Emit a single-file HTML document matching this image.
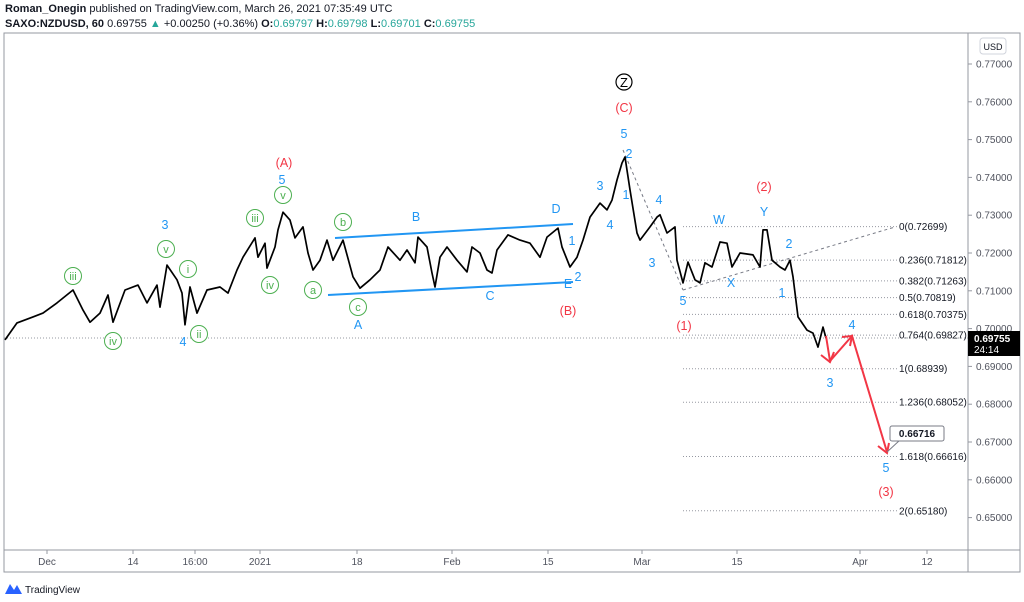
<!DOCTYPE html>
<html><head><meta charset="utf-8"><style>
html,body{margin:0;padding:0;background:#fff;width:1024px;height:602px;overflow:hidden;font-family:"Liberation Sans",sans-serif}
svg text{font-family:"Liberation Sans",sans-serif}
</style></head><body>
<svg id="chart" width="1024" height="602" viewBox="0 0 1024 602">
<text x="5" y="12" font-size="11" fill="#131722"><tspan font-weight="bold">Roman_Onegin</tspan> published on TradingView.com, March 26, 2021 07:35:49 UTC</text>
<text x="5" y="27" font-size="11" fill="#131722"><tspan font-weight="bold">SAXO:NZDUSD, 60</tspan> 0.69755 <tspan fill="#26a69a">▲</tspan> +0.00250 (+0.36%) <tspan font-weight="bold">O:</tspan><tspan fill="#26a69a">0.69797</tspan> <tspan font-weight="bold">H:</tspan><tspan fill="#26a69a">0.69798</tspan> <tspan font-weight="bold">L:</tspan><tspan fill="#26a69a">0.69701</tspan> <tspan font-weight="bold">C:</tspan><tspan fill="#26a69a">0.69755</tspan></text>
<rect x="4" y="33" width="1016" height="539" fill="none" stroke="#9598a1" stroke-width="1"/>
<line x1="968" y1="33" x2="968" y2="572" stroke="#9598a1"/>
<line x1="4" y1="550" x2="1020" y2="550" stroke="#9598a1"/>
<g id="yaxis"></g>
<g id="xaxis"></g>
<rect x="980" y="38" width="26" height="16" rx="3" fill="#fff" stroke="#d1d4dc"/>
<text x="993" y="50" font-size="9" fill="#131722" text-anchor="middle">USD</text>
<line x1="4" y1="338" x2="968" y2="338" stroke="#9598a1" stroke-dasharray="1,2"/>
<g id="fib"></g>
<line x1="623" y1="150" x2="683" y2="290" stroke="#787b86" stroke-dasharray="3,3"/>
<line x1="683" y1="290" x2="895" y2="227" stroke="#787b86" stroke-dasharray="3,3"/>
<line x1="335" y1="238" x2="573" y2="224" stroke="#2196f3" stroke-width="2"/>
<line x1="328" y1="295" x2="573" y2="282" stroke="#2196f3" stroke-width="2"/>
<path id="price" fill="none" stroke="#000" stroke-width="1.7" stroke-linejoin="round"/>
<g stroke="#f23645" stroke-width="2" fill="none">
<polyline points="826,336 830,361 852,336 887,452"/>
<polyline points="821,355 830,362 834,352"/>
<polyline points="842,337 852,336 850,346"/>
<polyline points="878,446 887,453 889,443"/>
</g>
<line x1="887" y1="452" x2="900" y2="440" stroke="#787b86"/>
<rect x="890" y="426" width="54" height="15" rx="2" fill="#fff" stroke="#787b86"/>
<text x="917" y="437" font-size="10" font-weight="bold" fill="#131722" text-anchor="middle">0.66716</text>
<rect x="968" y="331" width="52" height="25" fill="#000"/>
<text x="974" y="342" font-size="10" font-weight="bold" fill="#fff">0.69755</text>
<text x="974" y="353" font-size="10" fill="#fff">24:14</text>
<g id="labels" font-size="12.5" text-anchor="middle"></g>
<g>
<path d="M5 594 L10 584 L14 590 L17 585 L22 594 Z" fill="#2962ff"/>
<text x="25" y="593" font-size="10" fill="#131722">TradingView</text>
</g>
</svg>
<script>
const priceTicks=[0.77,0.76,0.75,0.74,0.73,0.72,0.71,0.70,0.69,0.68,0.67,0.66,0.65];
const dateLabels=["Dec","14","16:00","2021","18","Feb","15","Mar","15","Apr","12"];
const dateBars=[42,128,190,255,352,447,543,637,732,855,922];
const bars=[0,12,28,38,52,68,78,85,95,103,108,120,133,142,152,155,162,172,177,180,185,192,202,215,223,232,238,250,253,260,262,270,273,278,285,290,298,303,308,315,322,328,338,348,355,365,375,383,395,402,410,413,422,427,430,435,442,452,462,467,475,482,487,492,503,515,525,535,542,553,557,565,572,578,585,595,602,607,612,617,620,625,632,635,645,652,655,662,670,672,678,683,690,695,700,707,715,722,727,735,748,755,758,762,767,775,780,785,788,793,802,808,813,818,821];
const prices=[.6970,.7015,.7031,.7041,.7068,.7102,.7049,.7017,.7041,.7089,.7017,.7102,.7115,.7068,.7115,.7057,.7168,.7129,.7094,.7010,.7110,.7041,.7102,.7110,.7094,.7155,.7189,.7240,.7189,.7226,.7160,.7216,.7261,.7308,.7287,.7240,.7269,.7200,.7155,.7181,.7234,.7181,.7234,.7137,.7107,.7129,.7155,.7216,.7181,.7208,.7174,.7242,.7216,.7147,.7110,.7189,.7216,.7181,.7150,.7216,.7200,.7155,.7147,.7208,.7248,.7234,.7226,.7189,.7242,.7266,.7216,.7163,.7189,.7234,.7295,.7332,.7314,.7340,.7393,.7438,.7454,.7367,.7253,.7234,.7269,.7295,.7301,.7253,.7269,.7181,.7121,.7176,.7129,.7121,.7174,.7163,.7229,.7226,.7163,.7200,.7195,.7163,.7261,.7261,.7181,.7163,.7155,.7181,.7137,.7031,.6996,.6988,.6951,.7004,.6975];
const fibRatios=["0","0.236","0.382","0.5","0.618","0.764","1","1.236","1.618","2"];
const fibPrices=[0.72699,0.71812,0.71263,0.70819,0.70375,0.69827,0.68939,0.68052,0.66616,0.65180];
const NS="http://www.w3.org/2000/svg";
function yS(p){return 64+(0.77-p)*3780;}
function xS(b){return 5+b;}
function mk(tag,attrs,parent){const e=document.createElementNS(NS,tag);for(const k in attrs)e.setAttribute(k,attrs[k]);parent.appendChild(e);return e;}
const ya=document.getElementById('yaxis');
priceTicks.forEach(p=>{const y=yS(p);
mk('line',{x1:968,y1:y,x2:972,y2:y,stroke:'#9598a1'},ya);
const t=mk('text',{x:976,y:y+3.5,'font-size':10,fill:'#50535e'},ya);t.textContent=p.toFixed(5);

});
const xa=document.getElementById('xaxis');
dateLabels.forEach((d,i)=>{const x=xS(dateBars[i]);
mk('line',{x1:x,y1:550,x2:x,y2:554,stroke:'#9598a1'},xa);
const t=mk('text',{x:x,y:565,'font-size':10,fill:'#50535e','text-anchor':'middle'},xa);t.textContent=d;

});
document.getElementById('price').setAttribute('d',bars.map((b,i)=>(i?'L':'M')+xS(b).toFixed(1)+' '+yS(prices[i]).toFixed(1)).join(' '));
const fg=document.getElementById('fib');
fibPrices.forEach((p,i)=>{const y=yS(p);
const l=mk('line',{x1:683,y1:y,x2:897,y2:y,stroke:'#9598a1','stroke-dasharray':'1,2'},fg);


const t=mk('text',{x:899,y:y+3.5,'font-size':10,fill:'#131722'},fg);t.textContent=fibRatios[i]+'('+p.toFixed(5)+')';

});
const R='#f23645',B='#2196f3',G='#4caf50';
const labs=[["(C)",624,112,R],["5",624,138,B],["2",629,158,B],["(A)",284,167,R],["5",282,184,B],["3",165,229,B],["4",183,346,B],["A",358,329,B],["B",416,221,B],["C",490,300,B],["D",556,213,B],["E",568,288,B],["2",578,281,B],["(B)",568,315,R],["1",572,245,B],["3",600,190,B],["4",610,229,B],["1",626,199,B],["4",659,204,B],["3",652,267,B],["5",683,305,B],["(1)",684,330,R],["W",719,224,B],["X",731,287,B],["Y",764,216,B],["(2)",764,191,R],["2",789,248,B],["1",782,297,B],["4",852,329,B],["3",830,387,B],["5",886,472,B],["(3)",886,496,R]];
const lg=document.getElementById('labels');
labs.forEach(a=>{const t=mk('text',{x:a[1],y:a[2],fill:a[3]},lg);t.textContent=a[0];

});
const circ=[["iii",73,276],["iv",113,341],["v",166,249],["i",188,269],["ii",199,334],["iii",255,218],["iv",270,285],["v",283,195],["a",313,290],["b",343,222],["c",358,307]];
circ.forEach(a=>{
const c=mk('circle',{cx:a[1],cy:a[2],r:8.5,fill:'#fff',stroke:G,'stroke-width':1},lg);


const t=mk('text',{x:a[1],y:a[2]+4,fill:G,'font-size':11},lg);t.textContent=a[0];

});
const zc=mk('circle',{cx:624,cy:82,r:8,fill:'#fff',stroke:'#000','stroke-width':1.2},lg);


const zt=mk('text',{x:624,y:87,fill:'#000','font-size':13},lg);zt.textContent='Z';


</script>
</body></html>
